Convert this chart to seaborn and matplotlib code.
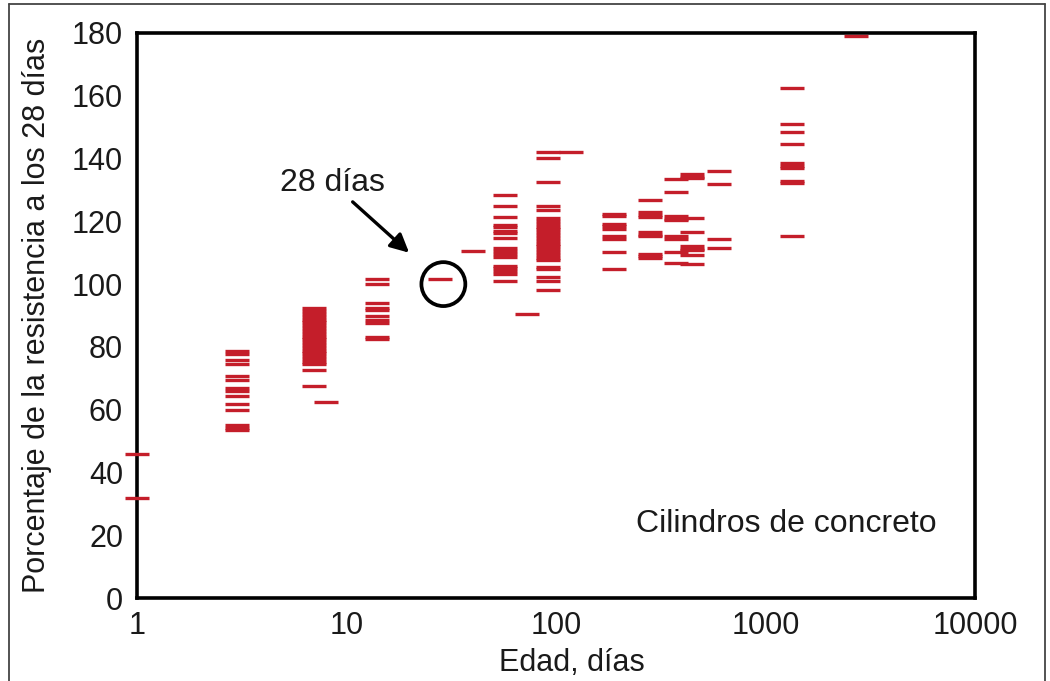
import matplotlib
matplotlib.use("Agg")
import matplotlib.pyplot as plt
import numpy as np
import pandas as pd
import seaborn as sns
from matplotlib.ticker import MultipleLocator, LogLocator, FixedLocator, FixedFormatter, NullFormatter
from matplotlib.lines import Line2D

# ---------------- data ----------------
ages = [1, 3, 7, 8, 14, 28, 40, 57, 73, 92, 118, 189, 280, 375, 445, 600, 1340, 2700]

s_1 = [46.0, 32.0]
s_3 = [78.7, 77.6, 75.8, 74.5, 70.6, 69.3, 66.9, 66.1, 64.5, 61.7, 59.8, 55.2, 54.3, 53.5]
s_7 = [92.3, 91.4, 90.5, 89.6, 88.7, 87.8, 86.9, 86.0, 85.1, 84.2, 83.3, 82.4, 81.5,
       80.6, 79.7, 78.8, 77.9, 77.0, 76.1, 75.2, 74.4, 72.5, 67.4]
s_8 = [62.3]
s_14 = [101.6, 100.0, 93.9, 92.5, 91.6, 89.9, 88.6, 87.7, 83.3, 82.5]
s_28 = [101.6]
s_40 = [110.5]
s_57 = [128.4, 124.9, 121.3, 118.8, 118.1, 116.9, 116.2, 114.6, 111.4, 110.5, 109.6,
        108.6, 105.9, 105.0, 104.1, 103.2, 101.1]
s_73 = [90.5]
s_92 = [142.2, 140.3, 132.4, 124.8, 123.6, 121.0, 120.1, 119.2, 118.3, 117.4, 116.5,
        115.6, 114.7, 113.8, 112.9, 112.0, 111.1, 110.2, 109.3, 108.4, 107.6, 105.6,
        104.9, 102.4, 101.0, 98.2]
s_118 = [142.2]
s_189 = [122.4, 121.7, 119.2, 118.4, 117.6, 115.3, 114.4, 110.1, 104.8]
s_280 = [126.8, 122.9, 122.1, 121.5, 116.5, 115.7, 115.2, 109.7, 108.9, 108.2]
s_375 = [133.4, 129.2, 121.6, 120.8, 120.3, 115.3, 114.4, 110.1, 106.6]
s_445 = [135.0, 134.2, 133.7, 121.1, 116.7, 112.1, 111.3, 110.8, 109.3, 106.3]
s_600 = [136.0, 131.9, 114.3, 111.4]
s_1340 = [162.4, 151.0, 148.4, 144.6, 138.5, 137.6, 136.9, 133.0, 132.3, 115.3]
s_2700 = [179.0]

values_by_age = [s_1, s_3, s_7, s_8, s_14, s_28, s_40, s_57, s_73, s_92, s_118,
                 s_189, s_280, s_375, s_445, s_600, s_1340, s_2700]

x_ticks = [1, 10, 100, 1000, 10000]
x_labels = ["1", "10", "100", "1000", "10000"]
y_ticks = [0, 20, 40, 60, 80, 100, 120, 140, 160, 180]

rows = [(a, v) for a, vals in zip(ages, values_by_age) for v in vals]
df = pd.DataFrame(rows, columns=["edad", "pct"])

RED = "#C41E2A"

# ---------------- figure ----------------
sns.set_theme(style="white")
plt.rcParams["font.family"] = ["Liberation Sans", "DejaVu Sans"]
FS = 22

W, H = 1050, 681
fig = plt.figure(figsize=(W / 100, H / 100), dpi=100)
fig.patch.set_facecolor("white")
ax = fig.add_axes([137 / W, 83 / H, 838 / W, 565 / H])

sns.scatterplot(data=df, x="edad", y="pct", marker="_", s=290, linewidth=2.4,
                color=RED, ax=ax, legend=False, zorder=3, clip_on=False)

ax.set_xscale("log")
ax.set_xlim(1, 10000)
ax.set_ylim(0, 180)

ax.xaxis.set_major_locator(FixedLocator(x_ticks))
ax.xaxis.set_major_formatter(FixedFormatter(x_labels))
ax.xaxis.set_minor_locator(LogLocator(base=10, subs=np.arange(2, 10)))
ax.xaxis.set_minor_formatter(NullFormatter())
ax.yaxis.set_major_locator(FixedLocator(y_ticks))
ax.yaxis.set_minor_locator(MultipleLocator(4))

ax.tick_params(which="both", direction="in", top=False, right=False,
               color="black", width=1.6, labelsize=FS, labelcolor="#1a1a1a")
ax.tick_params(which="major", length=12.5)
ax.tick_params(which="minor", length=6.5)
ax.tick_params(axis="y", which="major", pad=10)
ax.tick_params(axis="x", which="major", pad=9)

for sp in ax.spines.values():
    sp.set_visible(True)
    sp.set_color("black")
    sp.set_linewidth(2.6)
    sp.set_zorder(2)

ax.set_xlabel("Edad, días", fontsize=FS, color="#1a1a1a")
ax.set_ylabel("Porcentaje de la resistencia a los 28 días", fontsize=FS, color="#1a1a1a")
ax.xaxis.set_label_coords(0.519, -0.088)
ax.yaxis.set_label_coords(-0.102, 0.5)

# annotation: 28-day circle and arrow
ax.scatter([29], [100], s=1000, marker="o", facecolors="none", edgecolors="black",
           linewidths=2.7, zorder=4)
ax.annotate("", xy=(19.9, 110.0), xytext=(10.7, 126.2),
            arrowprops=dict(arrowstyle="-|>", color="black", lw=2.4,
                            mutation_scale=28, shrinkA=0, shrinkB=0))
ax.text(8.6, 132.3, "28 días", fontsize=23, ha="center", va="center", color="#1a1a1a")
ax.text(0.7745, 0.131, "Cilindros de concreto", transform=ax.transAxes,
        fontsize=23, ha="center", va="center", color="#1a1a1a")

# outer frame of the picture
for xs, ys in [([9 / W, 9 / W], [0, 1 - 4 / H]),
               ([9 / W, 1045 / W], [1 - 4 / H, 1 - 4 / H]),
               ([1045 / W, 1045 / W], [0, 1 - 4 / H])]:
    fig.add_artist(Line2D(xs, ys, transform=fig.transFigure, color="#444444", lw=1.3))

fig.savefig("out.png", dpi=100, facecolor="white")
